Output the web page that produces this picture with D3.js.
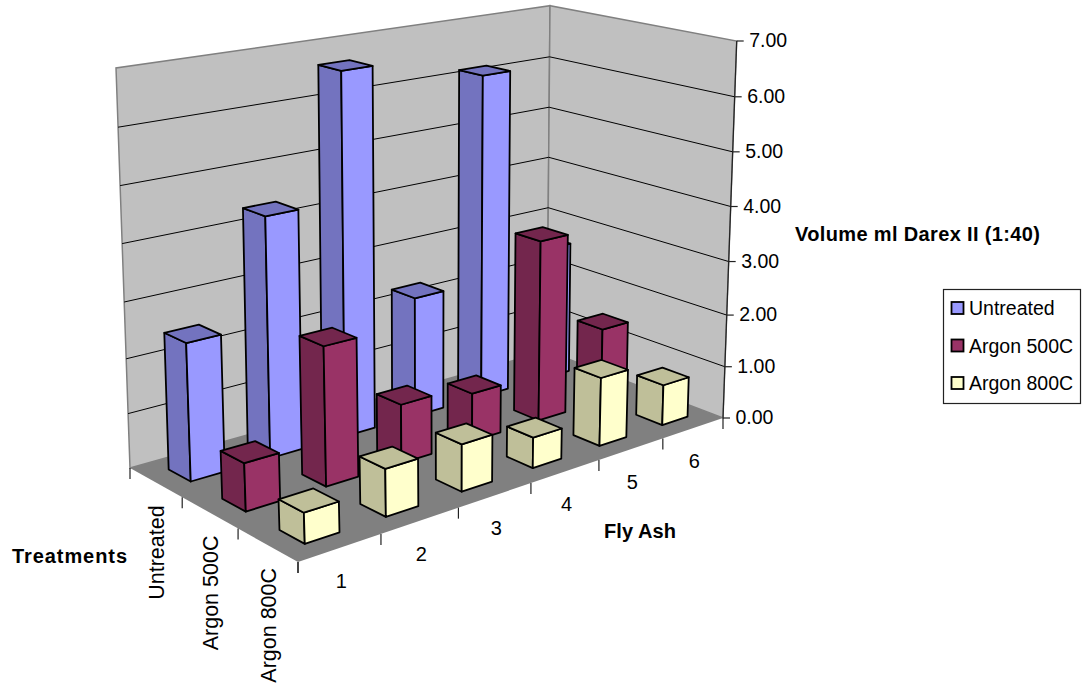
<!DOCTYPE html>
<html lang="en">
<head>
  <meta charset="UTF-8">
  <title>Fly Ash 3D columns</title>
  <style type="text/css">
    body{ margin:0; background:#fff; }
    svg{ display:block; }
    text{ font-family:"Liberation Sans", Arial, sans-serif; fill:#000; }
  </style>
  <script src="https://d3js.org/d3.v7.min.js"></script>
</head>
<body>
  <svg></svg>
  <script>
    const flyAsh = ["1", "2", "3", "4", "5", "6"];
    const treatments = ["Untreated", "Argon 500C", "Argon 800C"];
    const valueTicks = [0, 1, 2, 3, 4, 5, 6, 7];

    const untreated = [2.48, 4.35, 6.65, 2.28, 6.15, 2.6];
    const argon500 = [0.85, 2.5, 1.08, 0.9, 3.4, 1.42];
    const argon800 = [0.53, 0.84, 0.85, 0.56, 1.28, 0.77];
    const seriesValues = [untreated, argon500, argon800];

    // front face, side face and top colour of each series
    const seriesColors = [
      {front:"#9999ff", side:"#7373bf", top:"#7373bf"},
      {front:"#993366", side:"#73264d", top:"#73264d"},
      {front:"#ffffcc", side:"#bfbf99", top:"#bfbf99"}
    ];

    const svg = d3.select("svg").attr("width",1085).attr("height",686);

    // the box of the 3d chart on screen: left, back, right, front corner
    const floorQuad = [[130,468],[547,351],[723,418],[298,562]];
    const topQuad = [[116,68],[550,5.7],[736.7,41],[284,122]];

    function homography(q){
      const [p0,p1,p2,p3] = q;
      const dx1 = p1[0]-p2[0], dx2 = p3[0]-p2[0], sx = p0[0]-p1[0]+p2[0]-p3[0];
      const dy1 = p1[1]-p2[1], dy2 = p3[1]-p2[1], sy = p0[1]-p1[1]+p2[1]-p3[1];
      const den = dx1*dy2-dx2*dy1;
      const g = (sx*dy2-dx2*sy)/den, h = (dx1*sy-sx*dy1)/den;
      const a = p1[0]-p0[0]+g*p1[0], b = p3[0]-p0[0]+h*p3[0];
      const d = p1[1]-p0[1]+g*p1[1], e = p3[1]-p0[1]+h*p3[1];
      return (u,v) => {
        const w = g*u+h*v+1;
        return [(a*u+b*v+p0[0])/w, (d*u+e*v+p0[1])/w];
      };
    }
    const floorMap = homography(floorQuad);
    const topMap = homography(topQuad);

    //define Scale
    const xScale = d3.scaleBand().domain(flyAsh).range([0,1]).paddingInner(0.58).paddingOuter(0.29);
    const yScale = d3.scaleBand().domain(treatments).range([0,1]).paddingInner(0.58).paddingOuter(0.29);
    // the height axis is slightly foreshortened toward the floor
    const zScale = d3.scaleLinear().domain(valueTicks).range([0,0.136,0.273,0.415,0.561,0.706,0.852,1]);

    // u along fly ash, v along treatments, z in data units
    function project(u,v,z){
      const a = floorMap(u,v), b = topMap(u,v), t = zScale(z);
      return [a[0]+(b[0]-a[0])*t, a[1]+(b[1]-a[1])*t];
    }
    const poly = pts => pts.map(p => p.join(",")).join(" ");

    // walls and floor
    const walls = svg.append("g");
    walls.append("polygon")
      .attr("points",poly([project(0,0,0),project(1,0,0),project(1,0,7),project(0,0,7)]))
      .attr("fill","#c0c0c0").attr("stroke","#808080").attr("stroke-width",1.5);
    walls.append("polygon")
      .attr("points",poly([project(1,0,0),project(1,1,0),project(1,1,7),project(1,0,7)]))
      .attr("fill","#c0c0c0").attr("stroke","#808080").attr("stroke-width",1.5);
    walls.append("polygon")
      .attr("points",poly([project(0,0,0),project(1,0,0),project(1,1,0),project(0,1,0)]))
      .attr("fill","#808080");

    // gridlines
    walls.selectAll("polyline.grid")
      .data(valueTicks.slice(1,7))
      .enter()
      .append("polyline")
      .attr("class","grid")
      .attr("points",d => poly([project(0,0,d),project(1,0,d),project(1,1,d)]))
      .attr("fill","none").attr("stroke","#000").attr("stroke-width",1);

    // value axis on the right edge
    const axis = svg.append("g");
    axis.append("line")
      .attr("x1",project(1,1,0)[0]).attr("y1",project(1,1,0)[1])
      .attr("x2",project(1,1,7)[0]).attr("y2",project(1,1,7)[1])
      .attr("stroke","#222").attr("stroke-width",1.2);
    valueTicks.forEach(d => {
      const p = project(1,1,d);
      axis.append("line")
        .attr("x1",p[0]).attr("y1",p[1]).attr("x2",p[0]+7).attr("y2",p[1])
        .attr("stroke","#222").attr("stroke-width",1.2);
      axis.append("text")
        .attr("x",p[0]+12.5).attr("y",p[1]+6)
        .attr("font-size",19.5)
        .text(d3.format(".2f")(d));
    });

    // fly ash axis along the front edge
    d3.range(flyAsh.length+1).forEach(i => {
      const p = project(i/flyAsh.length,1,0);
      axis.append("line")
        .attr("x1",p[0]).attr("y1",p[1]).attr("x2",p[0]).attr("y2",p[1]+11)
        .attr("stroke","#222").attr("stroke-width",1.2);
    });
    flyAsh.forEach((d,i) => {
      const p = project((i+0.5)/flyAsh.length,1,0);
      axis.append("text")
        .attr("x",p[0]+1).attr("y",p[1]+40)
        .attr("text-anchor","middle").attr("font-size",20)
        .text(d);
    });

    // treatments axis along the left edge
    d3.range(treatments.length+1).forEach(i => {
      const p = project(0,i/treatments.length,0);
      axis.append("line")
        .attr("x1",p[0]).attr("y1",p[1]).attr("x2",p[0]).attr("y2",p[1]+11)
        .attr("stroke","#222").attr("stroke-width",1.2);
    });
    treatments.forEach((d,i) => {
      const p = project(0,(i+0.5)/treatments.length,0);
      axis.append("text")
        .attr("transform",`translate(${p[0]+8},${p[1]+23}) rotate(-90)`)
        .attr("text-anchor","end").attr("font-size",21.5)
        .text(d);
    });

    // bars, back row first and right to left inside a row
    const bars = svg.append("g");
    treatments.forEach((t,r) => {
      d3.range(flyAsh.length-1,-1,-1).forEach(i => {
        const value = seriesValues[r][i];
        const c = seriesColors[r];
        const u0 = xScale(flyAsh[i]), u1 = u0+xScale.bandwidth();
        const v0 = yScale(t), v1 = v0+yScale.bandwidth();
        const faces = [
          {pts:[[u0,v0,0],[u0,v1,0],[u0,v1,value],[u0,v0,value]], fill:c.side},
          {pts:[[u0,v1,0],[u1,v1,0],[u1,v1,value],[u0,v1,value]], fill:c.front},
          {pts:[[u0,v0,value],[u1,v0,value],[u1,v1,value],[u0,v1,value]], fill:c.top}
        ];
        bars.selectAll(null)
          .data(faces)
          .enter()
          .append("polygon")
          .attr("points",f => poly(f.pts.map(q => project(q[0],q[1],q[2]))))
          .attr("fill",f => f.fill)
          .attr("stroke","#000").attr("stroke-width",1.8).attr("stroke-linejoin","round");
      });
    });

    // axis titles
    const titles = [
      {text:"Volume ml Darex II (1:40)", x:795, y:241, len:245},
      {text:"Treatments", x:12, y:563, len:115},
      {text:"Fly Ash", x:604, y:538, len:72}
    ];
    svg.selectAll("text.title")
      .data(titles)
      .enter()
      .append("text")
      .attr("class","title")
      .attr("x",d => d.x).attr("y",d => d.y)
      .attr("font-size",20).attr("font-weight","bold")
      .attr("textLength",d => d.len)
      .text(d => d.text);

    // legend
    const legend = svg.append("g");
    legend.append("rect")
      .attr("x",943.5).attr("y",289.5).attr("width",137).attr("height",114)
      .attr("fill","#fff").attr("stroke","#222").attr("stroke-width",1.2);
    const legendY = d3.scalePoint().domain(treatments).range([308,383]);
    treatments.forEach((t,r) => {
      legend.append("rect")
        .attr("x",951.5).attr("y",legendY(t)-6).attr("width",12).attr("height",12)
        .attr("fill",seriesColors[r].front).attr("stroke","#000").attr("stroke-width",1.8);
      legend.append("text")
        .attr("x",969).attr("y",legendY(t)+7)
        .attr("font-size",19.5)
        .text(t);
    });
  </script>
</body>
</html>
